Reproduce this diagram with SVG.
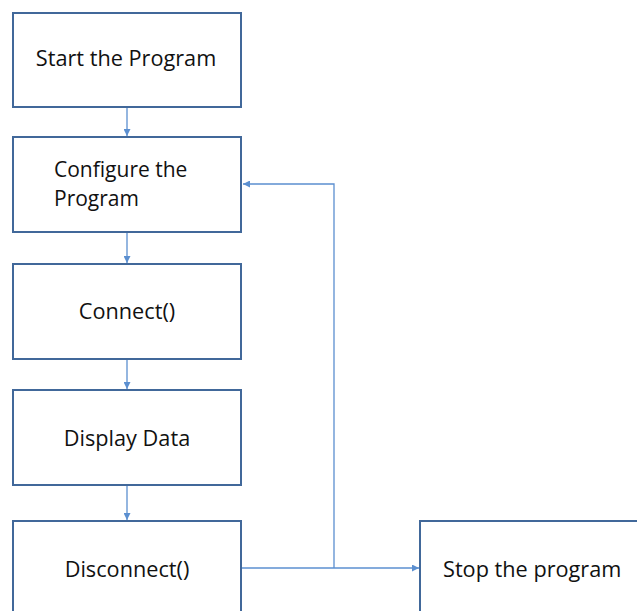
<svg xmlns="http://www.w3.org/2000/svg" width="637" height="611" viewBox="0 0 637 611">
  <style>
    .box { fill: #ffffff; stroke: #41689a; stroke-width: 2; }
    .label { font-family: "Open Sans", "Noto Sans", sans-serif; font-size: 21.7px; fill: #111111; }
    .tight { font-size: 21px; }
    .mid { text-anchor: middle; }
    .wire { fill: none; stroke: #5b8fd0; stroke-width: 1.3; }
  </style>
  <defs>
    <marker id="arrow" viewBox="0 0 10 10" refX="10" refY="5" markerWidth="7" markerHeight="7" markerUnits="userSpaceOnUse" orient="auto">
      <path d="M0,0 L10,5 L0,10 z" fill="#5b8fd0"/>
    </marker>
  </defs>
  <rect width="637" height="611" fill="#ffffff"/>

  <g id="connectors">
    <line class="wire" x1="127" y1="108" x2="127" y2="136" marker-end="url(#arrow)"/>
    <line class="wire" x1="127" y1="233" x2="127" y2="263" marker-end="url(#arrow)"/>
    <line class="wire" x1="127" y1="359" x2="127" y2="389" marker-end="url(#arrow)"/>
    <line class="wire" x1="127" y1="485" x2="127" y2="520" marker-end="url(#arrow)"/>
    <line class="wire" x1="242" y1="568" x2="419" y2="568" marker-end="url(#arrow)"/>
    <polyline class="wire" points="334,568 334,184 243,184" marker-end="url(#arrow)"/>
  </g>

  <g id="start">
    <rect class="box" x="13" y="13" width="228" height="94"/>
    <text class="label mid" x="126" y="66">Start the Program</text>
  </g>
  <g id="configure">
    <rect class="box" x="13" y="137" width="228" height="95"/>
    <text class="label tight" x="54" y="177">Configure the<tspan x="54" y="205.5">Program</tspan></text>
  </g>
  <g id="connect">
    <rect class="box" x="13" y="264" width="228" height="95"/>
    <text class="label mid" x="127" y="319">Connect()</text>
  </g>
  <g id="display">
    <rect class="box" x="13" y="390" width="228" height="95"/>
    <text class="label mid" x="127" y="446">Display Data</text>
  </g>
  <g id="disconnect">
    <rect class="box" x="13" y="521" width="228" height="100"/>
    <text class="label mid" x="127" y="577">Disconnect()</text>
  </g>
  <g id="stop">
    <rect class="box" x="420" y="521" width="230" height="100"/>
    <text class="label" x="443" y="577">Stop the program</text>
  </g>
</svg>
